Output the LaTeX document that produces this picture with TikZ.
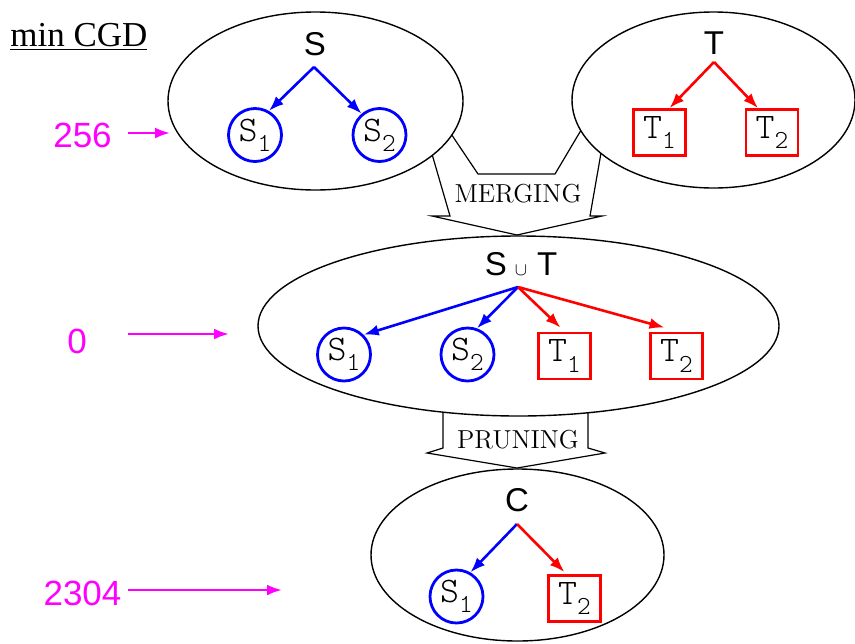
\documentclass[tikz,border=0pt]{standalone}
\usepackage{fontspec}
\newfontfamily\helv{Liberation Sans}
\newfontfamily\tmsfont{Liberation Serif}
\newfontfamily\lmlight{Latin Modern Mono Light}
\definecolor{cmag}{rgb}{1,0,1}
\newcommand{\elem}[2]{{\lmlight #1\raisebox{-0.28em}{\fontsize{13}{13}\selectfont #2}}}
\usetikzlibrary{shapes,arrows.meta}

\begin{document}
\begin{tikzpicture}[>={Latex[length=7.5pt,width=5.5pt]}, x=0.5pt, y=-0.5pt]
      \tikzset{
	  grp/.style={ellipse, draw, fill=white, line width=0.7pt, inner sep=0pt},
	  grpname/.style={inner sep=0pt, font=\helv\fontsize{16.5}{16.5}\selectfont},
	  scirc/.style={circle, draw=blue, line width=1.4pt, inner sep=0pt, minimum size=26.5pt, font=\fontsize{18}{18}\selectfont},
	  tbox/.style={rectangle, draw=red, line width=1.4pt, inner sep=0pt, minimum width=26pt, minimum height=23pt, font=\fontsize{18}{18}\selectfont},
	  sedge/.style={blue, line width=1.3pt, ->},
	  tedge/.style={red, line width=1.3pt, ->},
	  outline/.style={line width=0.6pt, line join=miter},
	  opname/.style={inner sep=0pt, font=\fontsize{13}{13}\selectfont},
	  cost/.style={inner sep=0pt, text=cmag, font=\helv\fontsize{17.5}{17.5}\selectfont},
	  costarrow/.style={cmag, line width=1.3pt, ->},
      }
      \useasboundingbox (0,0) rectangle (855,643);

      \node[anchor=base west, inner sep=0pt, font=\tmsfont\fontsize{17.5}{17.5}\selectfont] (title) at (10,46) {\underline{min CGD}};

      % the two fat arrows go first, the sets are filled white over their ends
      \draw[outline] (425,130) -- (450,216) -- (432,216) -- (517,235) -- (602,216) -- (590,216) -- (605,130);
      \draw[outline] (435,110) -- (478,174) -- (555,174) -- (593,110);
      \node[opname] (merge) at (518,194) {MERGING};

      \draw[outline] (443,380) -- (443,448) -- (427,453) -- (517,468) -- (605,453) -- (588,448) -- (588,380);
      \node[opname] (prune) at (518,440) {PRUNING};

      \node[grp, minimum width=147.5pt, minimum height=89pt] (sgrp) at (315.5,101) {};
      \node[grp, minimum width=141.5pt, minimum height=88pt] (tgrp) at (713.5,100) {};
      \node[grp, minimum width=260.5pt, minimum height=90pt] (ugrp) at (518.5,326) {};
      \node[grp, minimum width=146.5pt, minimum height=86pt] (cgrp) at (517.5,555) {};

      % S
      \node[grpname] (sname) at (315,44) {S};
      \coordinate (sroot) at (314,67);
      \node[scirc] (s1) at (255,135) {\elem{S}{1}};
      \node[scirc] (s2) at (379.5,135) {\elem{S}{2}};
      \draw[sedge] (sroot) -- (s1.60);
      \draw[sedge] (sroot) -- (s2.130);

      % T
      \node[grpname] (tname) at (714,43) {T};
      \coordinate (troot) at (714,62);
      \node[tbox] (t1) at (659.5,132.5) {\elem{T}{1}};
      \node[tbox] (t2) at (772,132.5) {\elem{T}{2}};
      \draw[tedge] (troot) -- ([xshift=5pt]t1.north);
      \draw[tedge] (troot) -- ([xshift=-7pt]t2.north);

      % S u T
      \node[grpname] (uname) at (521,264) {S\hspace{4pt}{\fontsize{9.5}{9.5}\selectfont$\cup$}\hspace{5pt}T};
      \coordinate (uroot) at (518,287);
      \node[scirc] (u1) at (344,354.5) {\elem{S}{1}};
      \node[scirc] (u2) at (467.5,354.5) {\elem{S}{2}};
      \node[tbox] (u3) at (564.5,356) {\elem{T}{1}};
      \node[tbox] (u4) at (676.5,356) {\elem{T}{2}};
      \draw[sedge] (uroot) -- (u1.north east);
      \draw[sedge] (uroot) -- (u2.70);
      \draw[tedge] (uroot) -- ([xshift=-2pt,yshift=2pt]u3.north);
      \draw[tedge] (uroot) -- ([xshift=-6pt,yshift=2pt]u4.north);

      % C
      \node[grpname] (cname) at (517,500) {C};
      \coordinate (croot) at (517,524);
      \node[scirc] (c1) at (456.5,596.5) {\elem{S}{1}};
      \node[tbox] (c2) at (574.5,598.5) {\elem{T}{2}};
      \draw[sedge] (croot) -- (c1.60);
      \draw[tedge] (croot) -- ([xshift=-5pt,yshift=1pt]c2.north);

      % costs
      \node[cost] (n256) at (82.5,135.5) {256};
      \coordinate (b256) at (128,133);
      \coordinate (e256) at (170,133);
      \draw[costarrow] (b256) -- (e256);

      \node[cost] (n0) at (77,341) {0};
      \coordinate (b0) at (128,334);
      \coordinate (e0) at (229,334);
      \draw[costarrow] (b0) -- (e0);

      \node[cost] (n2304) at (82.5,593) {2304};
      \coordinate (b2304) at (128,590);
      \coordinate (e2304) at (282,590);
      \draw[costarrow] (b2304) -- (e2304);
\end{tikzpicture}
\end{document}
